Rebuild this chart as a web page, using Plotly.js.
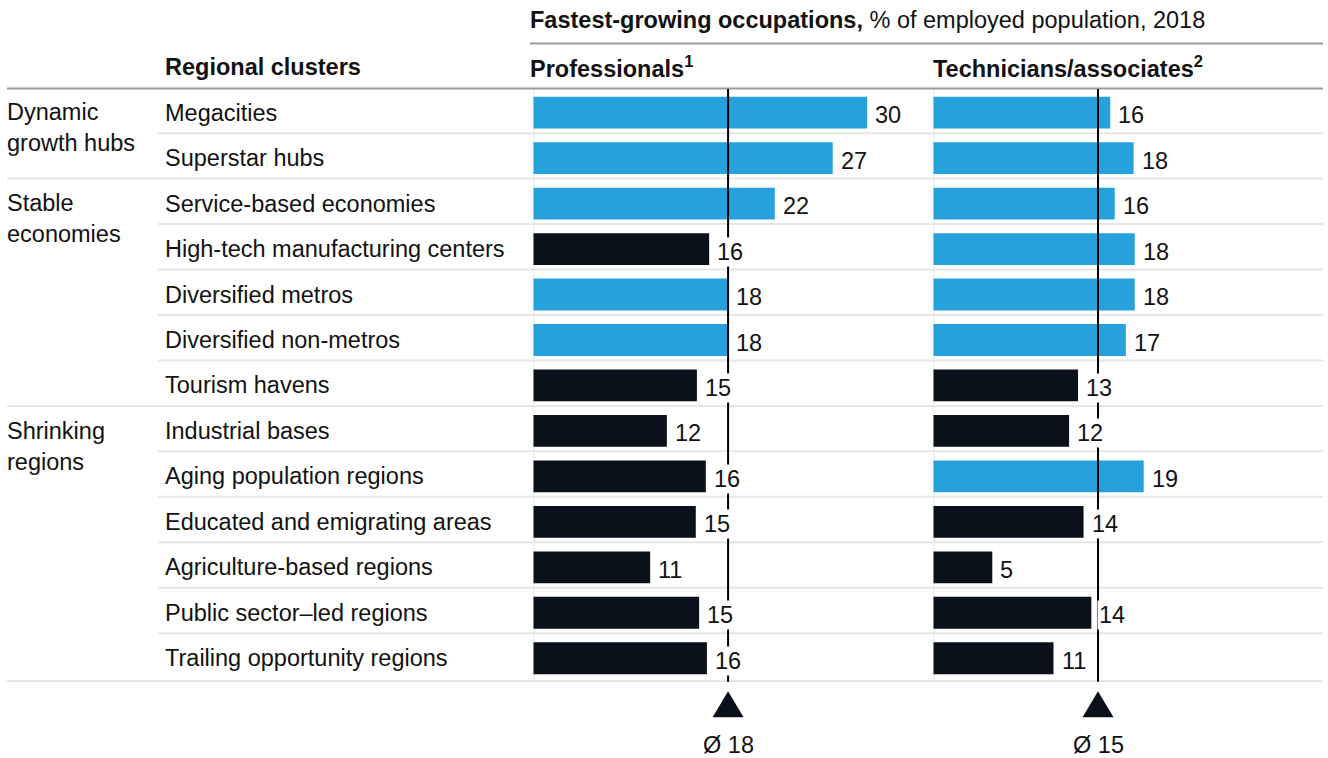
<!DOCTYPE html>
<html>
<head>
<meta charset="utf-8">
<script src="https://cdn.plot.ly/plotly-3.0.1.min.js"></script>
<style>html,body{margin:0;padding:0;background:#fff;}#chart{width:1328px;height:758px;}</style>
</head>
<body>
<div id="chart"></div>
<script>
// ---- data ----
const clusters = [
  'Megacities', 'Superstar hubs', 'Service-based economies', 'High-tech manufacturing centers',
  'Diversified metros', 'Diversified non-metros', 'Tourism havens', 'Industrial bases',
  'Aging population regions', 'Educated and emigrating areas', 'Agriculture-based regions',
  'Public sector\u2013led regions', 'Trailing opportunity regions'
];
const clusterGroups = [
  'Dynamic\ngrowth hubs', 'Dynamic\ngrowth hubs',
  'Stable\neconomies', 'Stable\neconomies', 'Stable\neconomies', 'Stable\neconomies', 'Stable\neconomies',
  'Shrinking\nregions', 'Shrinking\nregions', 'Shrinking\nregions', 'Shrinking\nregions', 'Shrinking\nregions', 'Shrinking\nregions'
];
const professionals = [30.0, 26.9, 21.7, 15.8, 17.5, 17.5, 14.7, 12.0, 15.5, 14.6, 10.5, 14.9, 15.6];
const technicians   = [15.9, 18.0, 16.3, 18.1, 18.1, 17.3, 13.0, 12.2, 18.9, 13.5, 5.3, 14.2, 10.8];
const avgProfessionals = 17.5;
const avgTechnicians = 14.8;
const headerBold = 'Fastest-growing occupations,';
const headerRegular = ' % of employed population, 2018';
const clusterHeader = 'Regional clusters';
const panelTitles = ['Professionals<sup>1</sup>', 'Technicians/associates<sup>2</sup>'];

// ---- styling ----
const W = 1328, H = 758;
const FONT = 'Liberation Sans, Arial, sans-serif';
const FS = 23.5;
const TXT = '#121212';
const BLUE = '#26a1dc';
const DARK = '#0a111b';
const LIGHT = '#e6e6e6';
const MID = '#9b9b9b';
const px = x => x / W;
const py = y => 1 - y / H;
const K = 11.13;      // pixels per unit
const RANGE = 35;

const idx = clusters.map((_, i) => i);
const colorsFor = (vals, avg) => vals.map(v => (v >= avg ? BLUE : DARK));

const traces = [
  {type: 'bar', orientation: 'h', x: professionals, y: idx, xaxis: 'x', yaxis: 'y',
   width: 0.7, marker: {color: colorsFor(professionals, avgProfessionals), line: {width: 0}},
   hoverinfo: 'skip', textposition: 'none'},
  {type: 'bar', orientation: 'h', x: technicians, y: idx, xaxis: 'x2', yaxis: 'y',
   width: 0.7, marker: {color: colorsFor(technicians, avgTechnicians), line: {width: 0}},
   hoverinfo: 'skip', textposition: 'none'}
];

const annotations = [];
const shapes = [];
const baseFont = {family: FONT, size: FS, color: TXT};

// headers
annotations.push({xref: 'paper', yref: 'paper', x: px(528), y: py(20), xanchor: 'left', yanchor: 'middle',
  showarrow: false, text: '<b>' + headerBold + '</b>' + headerRegular, font: baseFont});
annotations.push({xref: 'paper', yref: 'paper', x: px(163), y: py(67), xanchor: 'left', yanchor: 'middle',
  showarrow: false, text: '<b>' + clusterHeader + '</b>', font: baseFont});
annotations.push({xref: 'paper', yref: 'paper', x: px(528), y: py(67), xanchor: 'left', yanchor: 'middle',
  showarrow: false, text: '<b>' + panelTitles[0] + '</b>', font: baseFont});
annotations.push({xref: 'paper', yref: 'paper', x: px(931), y: py(67), xanchor: 'left', yanchor: 'middle',
  showarrow: false, text: '<b>' + panelTitles[1] + '</b>', font: baseFont});

shapes.push({type: 'line', xref: 'paper', yref: 'paper', x0: px(530), x1: px(1323), y0: py(43.5), y1: py(43.5),
  line: {color: MID, width: 2}});
shapes.push({type: 'line', xref: 'paper', yref: 'paper', x0: px(7), x1: px(1323), y0: py(88.5), y1: py(88.5),
  line: {color: MID, width: 2}});

// row labels, group labels, separators
clusters.forEach((c, i) => {
  annotations.push({xref: 'paper', yref: 'y', x: px(163), y: i, xanchor: 'left', yanchor: 'middle',
    showarrow: false, text: c, font: baseFont});
  if (i === 0 || clusterGroups[i] !== clusterGroups[i - 1]) {
    annotations.push({xref: 'paper', yref: 'y', x: px(5), y: i + 0.336, xanchor: 'left', yanchor: 'middle',
      align: 'left', showarrow: false, text: clusterGroups[i].replace('\n', '<br>'), font: baseFont});
  }
  if (i < clusters.length - 1) {
    const full = clusterGroups[i] !== clusterGroups[i + 1];
    shapes.push({type: 'line', xref: 'paper', yref: 'y', x0: px(full ? 7 : 158), x1: px(1323),
      y0: i + 0.45, y1: i + 0.45, layer: 'below', line: {color: LIGHT, width: 2}});
  } else {
    shapes.push({type: 'line', xref: 'paper', yref: 'y', x0: px(7), x1: px(1323),
      y0: i + 0.5, y1: i + 0.5, layer: 'below', line: {color: LIGHT, width: 2}});
  }
});

// per-panel: value labels, baseline, average line, triangle, average label
[[professionals, avgProfessionals, 'x'], [technicians, avgTechnicians, 'x2']].forEach(([vals, avg, xr]) => {
  vals.forEach((v, i) => {
    annotations.push({xref: xr, yref: 'y', x: v, y: i, xanchor: 'left', yanchor: 'middle', xshift: 6, yshift: -2.5,
      showarrow: false, text: String(Math.round(v)), bgcolor: '#ffffff', font: baseFont});
  });
  shapes.push({type: 'line', xref: xr, yref: 'y', x0: 0, x1: 0, y0: -0.5, y1: vals.length - 0.5,
    layer: 'below', line: {color: LIGHT, width: 2}});
  shapes.push({type: 'line', xref: xr, yref: 'y', x0: avg, x1: avg, y0: -0.52, y1: vals.length - 0.48,
    line: {color: '#000000', width: 2}});
  shapes.push({type: 'path', xref: xr, yref: 'y', xsizemode: 'pixel', ysizemode: 'pixel',
    xanchor: avg, yanchor: vals.length + 0.30, path: 'M-15.5,0L15.5,0L0,26Z',
    fillcolor: DARK, line: {width: 0}});
  annotations.push({xref: xr, yref: 'y', x: avg, y: vals.length + 0.90, xanchor: 'center', yanchor: 'middle',
    showarrow: false, text: '\u00d8 ' + Math.round(avg), font: baseFont});
});

const layout = {
  width: W, height: H,
  margin: {l: 0, r: 0, t: 0, b: 0, pad: 0},
  paper_bgcolor: '#ffffff', plot_bgcolor: 'rgba(0,0,0,0)',
  showlegend: false,
  xaxis: {domain: [px(533.3), px(533.3 + RANGE * K)], range: [0, RANGE], visible: false, fixedrange: true},
  xaxis2: {domain: [px(933.3), px(933.3 + RANGE * K)], range: [0, RANGE], visible: false, anchor: 'y', fixedrange: true},
  yaxis: {domain: [0, 1], range: [14.195, -2.479], visible: false, fixedrange: true},
  annotations: annotations,
  shapes: shapes
};

Plotly.newPlot('chart', traces, layout, {staticPlot: true, displayModeBar: false});
</script>
</body>
</html>
